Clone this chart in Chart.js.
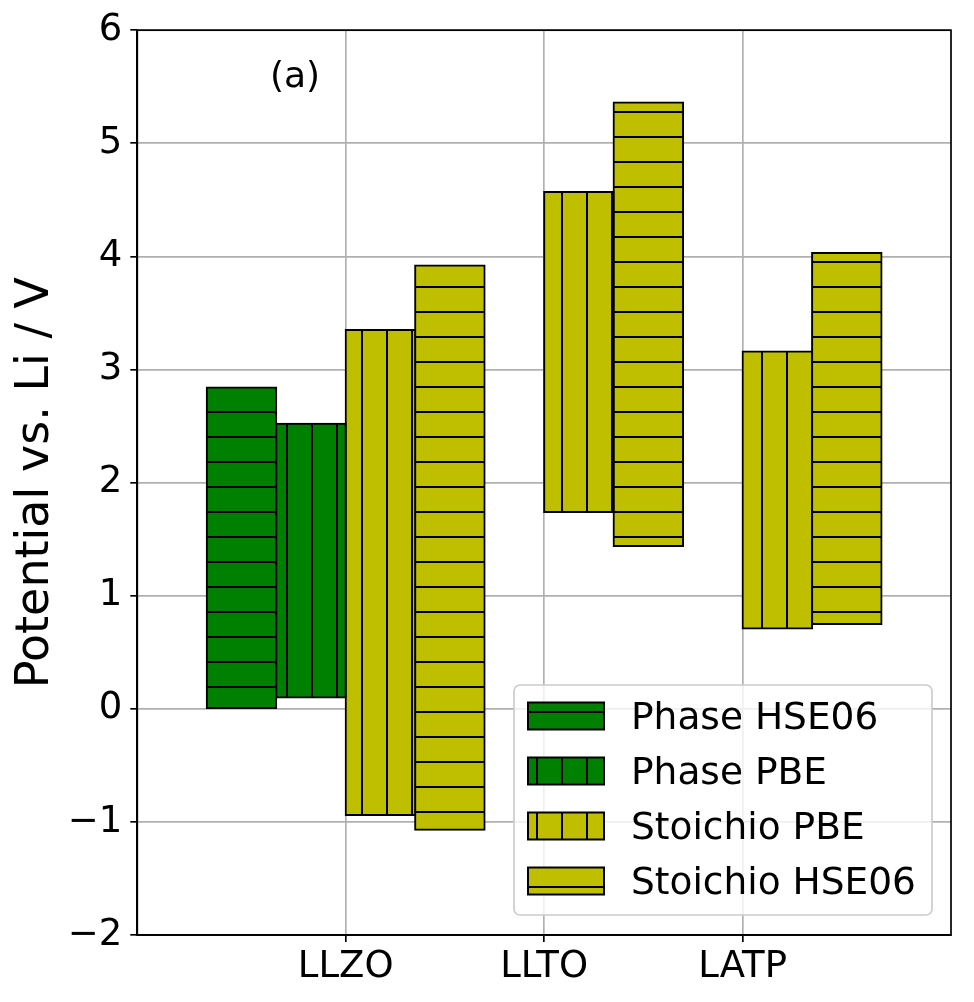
<!DOCTYPE html>
<html><head><meta charset="utf-8">
<script src="https://cdn.jsdelivr.net/npm/chart.js@4.4.1/dist/chart.umd.min.js"></script>
<style>html,body{margin:0;padding:0;background:#fff;}#wrap{width:974px;height:1002px;position:relative;}</style>
</head><body><div id="wrap"><canvas id="c" width="974" height="1002"></canvas></div>
<script>
// ---- data ----
const categories = ['LLZO', 'LLTO', 'LATP'];
const seriesNames = ['Phase HSE06', 'Phase PBE', 'Stoichio PBE', 'Stoichio HSE06'];
const phaseHSE06Low  = [0.00, null, null];
const phaseHSE06High = [2.84, null, null];
const phasePBELow    = [0.10, null, null];
const phasePBEHigh   = [2.52, null, null];
const stoichPBELow   = [-0.94, 1.74, 0.71];
const stoichPBEHigh  = [3.35, 4.57, 3.16];
const stoichHSE06Low = [-1.07, 1.44, 0.75];
const stoichHSE06High= [3.92, 5.36, 4.03];
const yTickValues = [-2, -1, 0, 1, 2, 3, 4, 5, 6];
const panelLabel = '(a)';
const yAxisTitle = 'Potential vs. Li / V';

// ---- styles ----
const GREEN = '#008000', OLIVE = '#bfbf00';
const canvas = document.getElementById('c');
const mainCtx = canvas.getContext('2d');
function makeHatch(bg, dir) {
  const P = 25;
  const c = document.createElement('canvas'); c.width = P; c.height = P;
  const g = c.getContext('2d');
  g.fillStyle = bg; g.fillRect(0, 0, P, P);
  g.fillStyle = '#000';
  if (dir === 'h') g.fillRect(0, 11, P, 2); else g.fillRect(11, 0, 2, P);
  return mainCtx.createPattern(c, 'repeat');
}
const fills = [makeHatch(GREEN, 'h'), makeHatch(GREEN, 'v'), makeHatch(OLIVE, 'v'), makeHatch(OLIVE, 'h')];
const lows = [phaseHSE06Low, phasePBELow, stoichPBELow, stoichHSE06Low];
const highs = [phaseHSE06High, phasePBEHigh, stoichPBEHigh, stoichHSE06High];

function rangeData(lo, hi) {
  return categories.map((c, i) => lo[i] == null ? null : { x: i, y: [lo[i], hi[i]] }).filter(Boolean);
}
const datasets = seriesNames.map((name, k) => ({
  label: name,
  data: rangeData(lows[k], highs[k]),
  backgroundColor: fills[k],
  borderColor: '#000',
  borderWidth: 2,
  borderSkipped: false,
  inflateAmount: 1,
  categoryPercentage: 1.4,
  barPercentage: 1.0
}));

const FONT = '"DejaVu Sans", sans-serif';
const fmt = v => v < 0 ? '\u2212' + Math.abs(v) : String(v);

const framePlugin = {
  id: 'frame',
  afterDatasetsDraw(chart) {
    const { ctx, chartArea: a } = chart;
    ctx.save();
    ctx.strokeStyle = '#000'; ctx.lineWidth = 1.7;
    ctx.strokeRect(a.left, a.top, a.right - a.left, a.bottom - a.top);
    ctx.restore();
  }
};
const annotPlugin = {
  id: 'annot',
  afterDraw(chart) {
    const { ctx, chartArea: a } = chart;
    ctx.save();
    ctx.fillStyle = '#000';
    ctx.font = '36px ' + FONT;
    ctx.textBaseline = 'alphabetic';
    ctx.textAlign = 'left';
    ctx.fillText(panelLabel, a.left + 0.163 * (a.right - a.left), a.top + 57);
    ctx.restore();
  }
};
const legendPlugin = {
  id: 'customLegend',
  afterDraw(chart) {
    const { ctx, chartArea: a } = chart;
    const w = 418, h = 230;
    const x0 = a.right - 19 - w, y0 = a.bottom - 20 - h;
    ctx.save();
    ctx.beginPath();
    if (ctx.roundRect) ctx.roundRect(x0, y0, w, h, 6); else ctx.rect(x0, y0, w, h);
    ctx.fillStyle = 'rgba(255,255,255,0.8)';
    ctx.fill();
    ctx.strokeStyle = '#cccccc'; ctx.lineWidth = 1.7;
    ctx.stroke();
    chart.data.datasets.forEach((ds, k) => {
      const cy = y0 + 31 + 55 * k;
      const px = x0 + 14, pw = 76, ph = 27;
      ctx.fillStyle = ds.backgroundColor;
      ctx.fillRect(px, cy - ph / 2, pw, ph);
      ctx.strokeStyle = '#000'; ctx.lineWidth = 2;
      ctx.strokeRect(px, cy - ph / 2, pw, ph);
      ctx.fillStyle = '#000';
      ctx.font = '37.5px ' + FONT;
      ctx.textAlign = 'left'; ctx.textBaseline = 'alphabetic';
      ctx.fillText(ds.label, x0 + 117, cy + 13);
    });
    ctx.restore();
  }
};

new Chart(canvas, {
  type: 'bar',
  data: { datasets },
  plugins: [framePlugin, annotPlugin, legendPlugin],
  options: {
    responsive: false,
    animation: false,
    layout: { padding: { top: 29, right: 23, left: 0, bottom: 0 } },
    plugins: { legend: { display: false }, tooltip: { enabled: false } },
    scales: {
      x: {
        type: 'linear', min: -1.05, max: 3.05, offset: false,
        afterBuildTicks: s => { s.ticks = categories.map((c, i) => ({ value: i })); },
        afterFit: s => { s.height = 67; },
        grid: { offset: false, color: '#b0b0b0', lineWidth: 1.67, tickColor: '#000', tickLength: 7, tickWidth: 1.67 },
        border: { color: '#000', width: 1.7 },
        ticks: { autoSkip: false, maxRotation: 0, minRotation: 0, color: '#000', padding: 3,
                 font: { family: FONT, size: 37 }, callback: v => categories[v] ?? '' }
      },
      y: {
        min: -2, max: 6,
        afterBuildTicks: s => { s.ticks = yTickValues.map(v => ({ value: v })); },
        afterFit: s => { s.width = 137.3; },
        grid: { color: '#b0b0b0', lineWidth: 1.67, tickColor: '#000', tickLength: 7, tickWidth: 1.67 },
        border: { color: '#000', width: 1.7 },
        ticks: { autoSkip: false, color: '#000', padding: 8, font: { family: FONT, size: 37 }, callback: v => fmt(v) },
        title: { display: true, text: yAxisTitle, color: '#000', font: { family: FONT, size: 46 }, padding: { top: 8, bottom: 0 } }
      }
    }
  }
});
</script></body></html>
